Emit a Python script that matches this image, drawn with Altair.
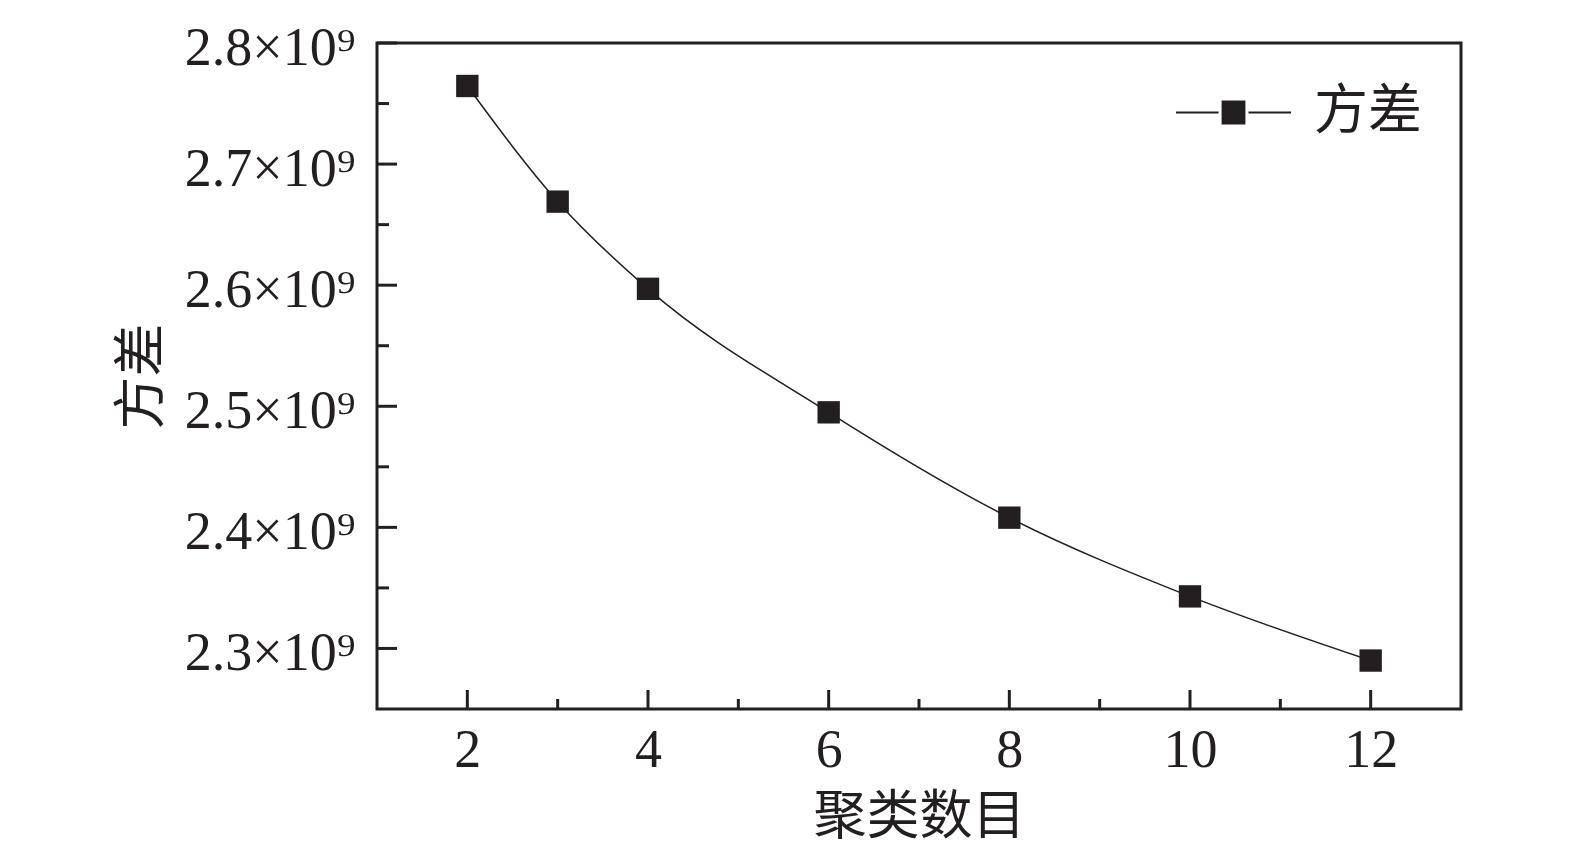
import altair as alt
import pandas as pd

clusters = [2, 3, 4, 6, 8, 10, 12]
variance = [2.7645e9, 2.669e9, 2.597e9, 2.495e9, 2.408e9, 2.343e9, 2.290e9]
series = ["方差"] * len(clusters)

x_major = [2, 4, 6, 8, 10, 12]
x_minor = [3, 5, 7, 9, 11]
y_major = [2.3e9, 2.4e9, 2.5e9, 2.6e9, 2.7e9, 2.8e9]
y_minor = [2.35e9, 2.45e9, 2.55e9, 2.65e9, 2.75e9]

W, H = 1084, 666
INK = "#231f20"
SERIF = "Liberation Serif"
CJK = "Noto Sans CJK SC"

df = pd.DataFrame({"k": clusters, "v": variance, "s": series})

xs = alt.Scale(domain=[1, 13], nice=False, zero=False)
ys = alt.Scale(domain=[2.25e9, 2.8e9], nice=False, zero=False)

xaxis = alt.Axis(values=x_major, format="d", tickSize=0, domain=False, grid=False,
                 labelFont=SERIF, labelFontSize=54, labelColor=INK, labelPadding=14,
                 title="聚类数目", titleFont=CJK, titleFontSize=53, titleFontWeight="normal",
                 titleColor=INK, titleBaseline="middle", titleY=108)
yaxis = alt.Axis(values=y_major, tickSize=0, domain=False, grid=False,
                 labelExpr="format(datum.value/1e9, '.1f') + '×10⁹'",
                 labelFont=SERIF, labelFontSize=54, labelColor=INK, labelPadding=22,
                 labelOffset=5,
                 title="方差", titleFont=CJK, titleFontSize=53, titleFontWeight="normal",
                 titleColor=INK, titleX=-208, titleY=H / 2, titleBaseline="bottom")

line = alt.Chart(df).mark_line(color=INK, strokeWidth=1.5, interpolate="monotone").encode(
    x=alt.X("k:Q", scale=xs, axis=xaxis),
    y=alt.Y("v:Q", scale=ys, axis=yaxis),
)

legend_path = "M-1,0H-0.26M0.26,0H1M-0.19,-0.19H0.19V0.19H-0.19Z"

points = alt.Chart(df).mark_point(shape="square", filled=True, size=500, opacity=1).encode(
    x=alt.X("k:Q", scale=xs),
    y=alt.Y("v:Q", scale=ys),
    color=alt.Color("s:N", scale=alt.Scale(range=[INK]),
                    legend=alt.Legend(title=None, orient="none", legendX=798, legendY=11,
                                      symbolType=legend_path, symbolSize=13225,
                                      symbolFillColor=INK, symbolStrokeColor=INK,
                                      symbolStrokeWidth=2, symbolOpacity=1,
                                      labelFont=CJK, labelFontSize=54, labelColor=INK,
                                      labelOffset=22, padding=0)),
)

ymaj_df = pd.DataFrame({"t": y_major})
ymin_df = pd.DataFrame({"t": y_minor})
xmaj_df = pd.DataFrame({"t": x_major})
xmin_df = pd.DataFrame({"t": x_minor})

ytick_major = alt.Chart(ymaj_df).mark_rule(color=INK, strokeWidth=3).encode(
    y=alt.Y("t:Q", scale=ys), x=alt.value(0), x2=alt.value(20))
ytick_minor = alt.Chart(ymin_df).mark_rule(color=INK, strokeWidth=3).encode(
    y=alt.Y("t:Q", scale=ys), x=alt.value(0), x2=alt.value(12))
xtick_major = alt.Chart(xmaj_df).mark_rule(color=INK, strokeWidth=3).encode(
    x=alt.X("t:Q", scale=xs), y=alt.value(H), y2=alt.value(H - 19))
xtick_minor = alt.Chart(xmin_df).mark_rule(color=INK, strokeWidth=3).encode(
    x=alt.X("t:Q", scale=xs), y=alt.value(H), y2=alt.value(H - 10))

chart = alt.layer(line, points, ytick_major, ytick_minor, xtick_major, xtick_minor).properties(
    width=W, height=H,
    autosize=alt.AutoSizeParams(type="none"),
    padding={"left": 369, "top": 35, "right": 100, "bottom": 140},
).configure(background="white").configure_view(stroke=INK, strokeWidth=3)

chart.save("out.html", embed_options={"renderer": "svg", "actions": False})
